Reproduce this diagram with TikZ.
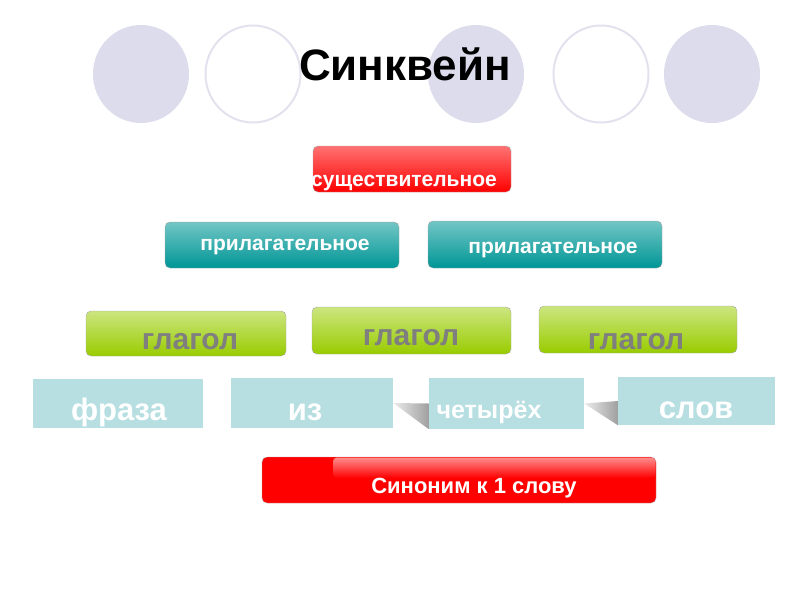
\documentclass[tikz,border=0pt]{standalone}
\usepackage{fontspec}
\setmainfont{Liberation Sans}
\definecolor{lavender}{RGB}{220,220,236}
\definecolor{ringline}{RGB}{226,226,238}
\definecolor{tealbox}{RGB}{0,150,150}
\definecolor{greenbox}{RGB}{153,204,0}
\definecolor{paleblue}{RGB}{183,223,226}
\definecolor{verbtext}{RGB}{127,127,127}
\begin{document}
\begin{tikzpicture}[x=1pt, y=-1pt,
  btn/.style={draw=gray!70, rounded corners=5pt, inner sep=0pt},
  redbtn/.style={btn, top color=red!55!white, middle color=red, bottom color=red},
  tealbtn/.style={btn, top color=tealbox!55!white, middle color=tealbox, bottom color=tealbox},
  greenbtn/.style={btn, top color=greenbox!50!white, middle color=greenbox, bottom color=greenbox},
  wordbox/.style={fill=paleblue, inner sep=0pt},
  lbl/.style={anchor=base, inner sep=0pt, font=\bfseries\fontsize{21}{21}\selectfont, text=white},
  biglbl/.style={lbl, font=\bfseries\fontsize{31}{31}\selectfont},
  verblbl/.style={biglbl, font=\bfseries\fontsize{30}{30}\selectfont, text=verbtext}]
  \useasboundingbox (0,0) rectangle (800,600);
  % circles behind the title
  \foreach \cx in {141,476,712}
    \fill[lavender] (\cx,74) ellipse (48 and 49);
  \foreach \cx in {253,601}
    \draw[ringline, line width=2pt] (\cx,74) ellipse (47.5 and 48.5);
  \node[anchor=base, inner sep=0pt, font=\bfseries\fontsize{44}{44}\selectfont] (title) at (405,80) {Синквейн};

  % noun and adjectives
  \node[redbtn, minimum width=198pt, minimum height=46pt] (noun) at (412,169) {};
  \node[lbl] (nountxt) at (404,186) {существительное};
  \node[tealbtn, minimum width=234pt, minimum height=46pt] (adjL) at (282,245) {};
  \node[lbl] (adjLtxt) at (285,250) {прилагательное};
  \node[tealbtn, minimum width=234pt, minimum height=47pt] (adjR) at (545,244.5) {};
  \node[lbl] (adjRtxt) at (553,253) {прилагательное};

  % verbs
  \node[greenbtn, minimum width=200pt, minimum height=45pt] (verbA) at (186,333.5) {};
  \node[verblbl] (verbAtxt) at (190,349) {глагол};
  \node[greenbtn, minimum width=199pt, minimum height=47pt] (verbB) at (411.5,330.5) {};
  \node[verblbl] (verbBtxt) at (411,345) {глагол};
  \node[greenbtn, minimum width=198pt, minimum height=47pt] (verbC) at (638,329.5) {};
  \node[verblbl] (verbCtxt) at (636,349) {глагол};

  % phrase of four words
  \node[wordbox, minimum width=170pt, minimum height=49pt] (phrase) at (118,403.5) {};
  \node[wordbox, minimum width=162pt, minimum height=50pt] (iz) at (312,403) {};
  \node[wordbox, minimum width=155pt, minimum height=51pt] (four) at (506.5,403.5) {};
  \node[wordbox, minimum width=157pt, minimum height=48pt] (words) at (696.5,401) {};
  \shade[left color=gray!15, right color=gray!75] (iz.east) -- (four.west) -- (four.south west) -- cycle;
  \shade[left color=gray!15, right color=gray!75] (four.east) -- (words.west) -- (words.south west) -- cycle;
  \node[biglbl] (phrasetxt) at (119,420) {фраза};
  \node[biglbl] (iztxt) at (305,420) {из};
  \node[lbl, font=\bfseries\fontsize{25}{25}\selectfont] (fourtxt) at (489,418) {четырёх};
  \node[biglbl] (wordstxt) at (696,418) {слов};

  % synonym
  \node[btn, fill=red, minimum width=394pt, minimum height=46pt] (syn) at (459,480) {};
  \shade[top color=red!45!white, bottom color=red, rounded corners=4pt] (333,457.5) rectangle (655.5,478);
  \node[lbl, font=\bfseries\fontsize{22}{22}\selectfont] (syntxt) at (474,493) {Синоним к 1 слову};
\end{tikzpicture}
\end{document}
